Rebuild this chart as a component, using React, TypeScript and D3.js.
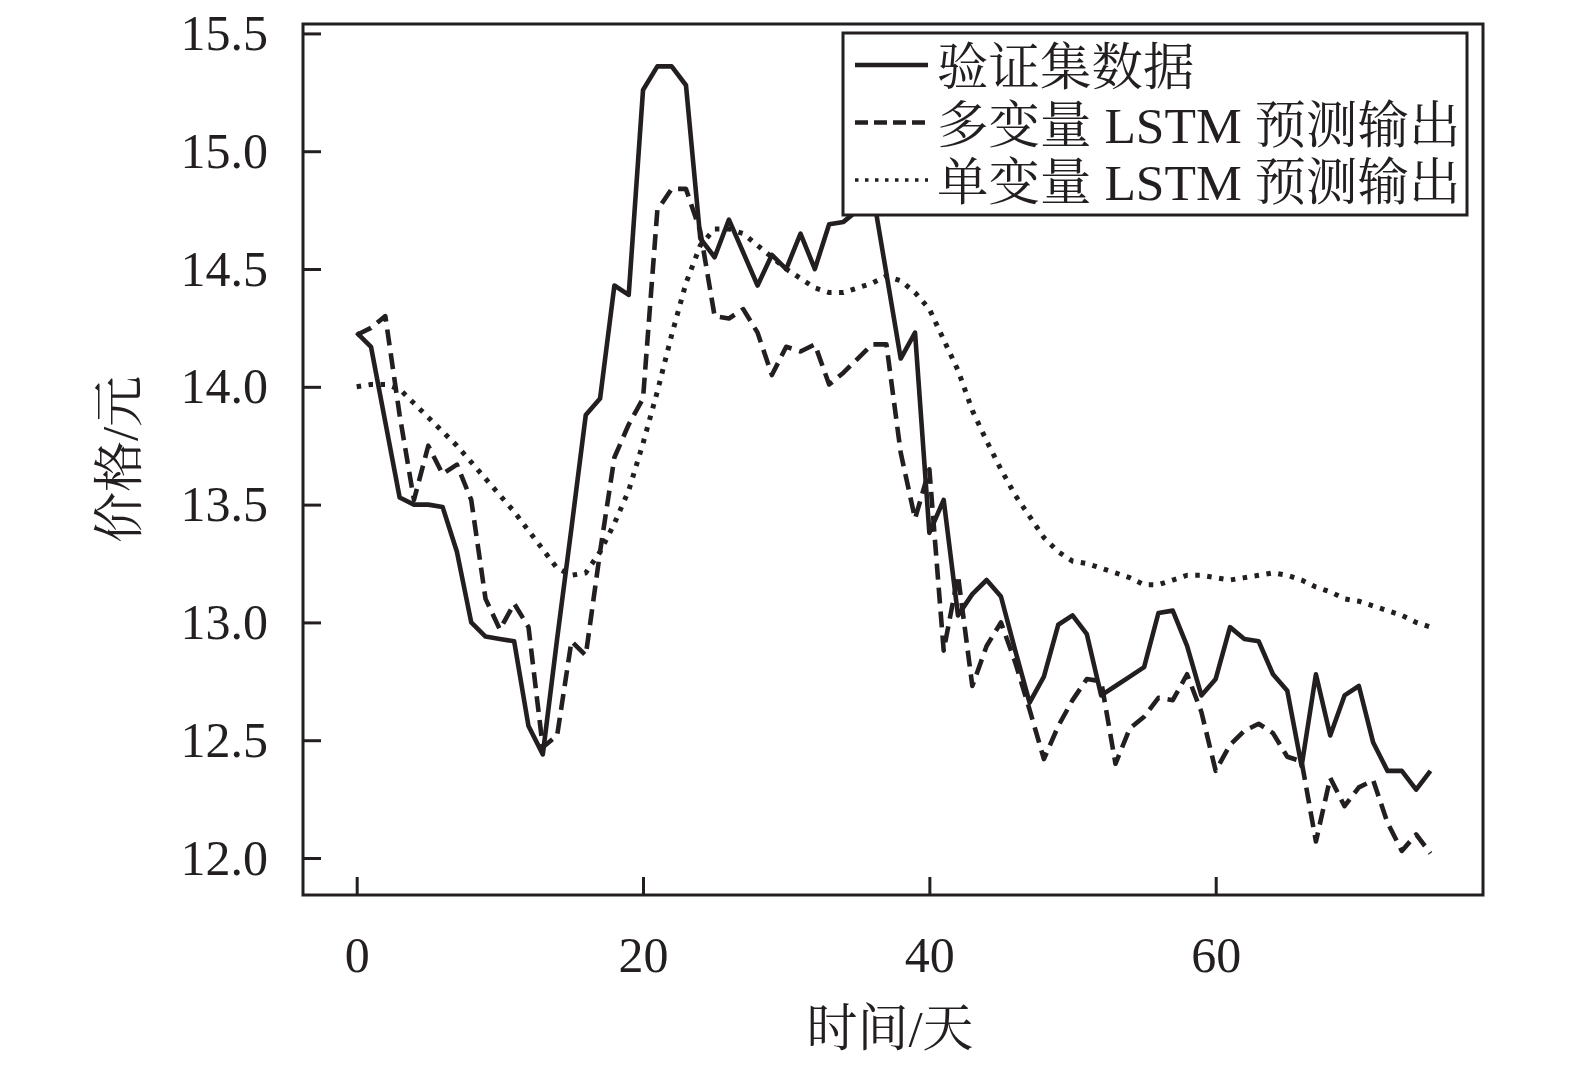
import { useEffect, useRef } from 'react';
import * as d3 from 'd3';

// days 0..75
const days = d3.range(0, 76);

const actual = [
  14.23, 14.17, 13.85, 13.53, 13.5, 13.5, 13.49, 13.3, 13.0, 12.94,
  12.93, 12.92, 12.56, 12.44, 12.93, 13.4, 13.88, 13.95, 14.43, 14.39,
  15.26, 15.36, 15.36, 15.28, 14.63, 14.55, 14.71, 14.57, 14.43, 14.56,
  14.5, 14.65, 14.5, 14.69, 14.7, 14.75, 14.84, 14.48, 14.12, 14.23,
  13.38, 13.52, 13.03, 13.12, 13.18, 13.11, 12.88, 12.66, 12.77, 12.99,
  13.03, 12.95, 12.69, 12.73, 12.77, 12.81, 13.04, 13.05, 12.9, 12.69,
  12.76, 12.98, 12.93, 12.92, 12.78, 12.71, 12.39, 12.78, 12.52, 12.69,
  12.73, 12.49, 12.37, 12.37, 12.29, 12.37,
];

const multiLstm = [
  14.22, 14.25, 14.3, 13.88, 13.52, 13.75, 13.63, 13.67, 13.52, 13.1,
  12.97, 13.08, 12.98, 12.47, 12.52, 12.92, 12.86, 13.3, 13.7, 13.84,
  13.95, 14.75, 14.84, 14.84, 14.66, 14.3, 14.29, 14.33, 14.23, 14.05,
  14.17, 14.15, 14.18, 14.01, 14.06, 14.12, 14.18, 14.18, 13.72, 13.44,
  13.65, 12.88, 13.2, 12.73, 12.9, 13.0, 12.83, 12.63, 12.42, 12.56,
  12.67, 12.76, 12.75, 12.4, 12.55, 12.6, 12.68, 12.67, 12.78, 12.62,
  12.37, 12.48, 12.54, 12.57, 12.53, 12.43, 12.41, 12.07, 12.34, 12.22,
  12.3, 12.33, 12.15, 12.03, 12.1, 12.02,
];

const uniLstm = [
  14.0, 14.01, 14.01, 13.99, 13.93, 13.87, 13.81, 13.75, 13.68, 13.61,
  13.54, 13.47, 13.39, 13.31, 13.23, 13.2, 13.21, 13.3, 13.42, 13.56,
  13.76, 13.98, 14.22, 14.44, 14.6, 14.67, 14.67, 14.65, 14.6, 14.55,
  14.5, 14.46, 14.42, 14.4, 14.4, 14.42, 14.44, 14.47, 14.45, 14.4,
  14.33, 14.2, 14.07, 13.9, 13.77, 13.65, 13.54, 13.45, 13.36, 13.3,
  13.26, 13.25, 13.23, 13.21, 13.19, 13.16, 13.16, 13.18, 13.2, 13.2,
  13.19, 13.18, 13.19, 13.2, 13.21, 13.2, 13.18, 13.15, 13.13, 13.1,
  13.09, 13.07, 13.05, 13.03, 13.0, 12.98,
];

const xTicks = [0, 20, 40, 60];
const yTicks = [12.0, 12.5, 13.0, 13.5, 14.0, 14.5, 15.0, 15.5];

const seriesNames = ['验证集数据', '多变量 LSTM 预测输出', '单变量 LSTM 预测输出'];

const INK = '#231f20';
const FONT = "'Liberation Serif', 'Noto Serif CJK SC', 'Noto Sans CJK SC', serif";

export default function App() {
  const svgRef = useRef<SVGSVGElement | null>(null);

  useEffect(() => {
    if (!svgRef.current) return;
    const width = 1575;
    const height = 1075;
    const left = 303, right = 1483, top = 24, bottom = 895;

    const svg = d3.select(svgRef.current);
    svg.selectAll('*').remove();
    svg.attr('width', width).attr('height', height);

    const x = d3.scaleLinear().domain([-3.75, 78.67]).range([left, right]);
    const y = d3.scaleLinear().domain([11.843, 15.54]).range([bottom, top]);

    const series = [
      { name: seriesNames[0], values: actual, dash: null, width: 4.6 },
      { name: seriesNames[1], values: multiLstm, dash: '16,8', width: 4.6 },
      { name: seriesNames[2], values: uniLstm, dash: '4.5,7.5', width: 5 },
    ];

    const line = d3
      .line<number>()
      .x((_, i) => x(days[i]))
      .y((d) => y(d));

    // lines, drawn back to front
    [...series].reverse().forEach((s) => {
      svg
        .append('path')
        .datum(s.values)
        .attr('d', line)
        .attr('fill', 'none')
        .attr('stroke', INK)
        .attr('stroke-width', s.width)
        .attr('stroke-linejoin', 'round')
        .attr('stroke-dasharray', s.dash);
    });

    // axes with inward ticks
    const xAxis = svg
      .append('g')
      .attr('transform', `translate(0,${bottom})`)
      .call(
        d3.axisBottom(x).tickValues(xTicks).tickSizeInner(-18).tickSizeOuter(0).tickPadding(41)
      );
    const yAxis = svg
      .append('g')
      .attr('transform', `translate(${left},0)`)
      .call(
        d3
          .axisLeft(y)
          .tickValues(yTicks)
          .tickFormat(d3.format('.1f'))
          .tickSizeInner(-18)
          .tickSizeOuter(0)
          .tickPadding(35)
      );
    [xAxis, yAxis].forEach((g) => {
      g.select('.domain').remove();
      g.selectAll('line').attr('stroke', INK).attr('stroke-width', 3);
      g.selectAll('text')
        .attr('fill', INK)
        .style('font-family', FONT)
        .style('font-size', '50px');
    });

    // frame
    svg
      .append('rect')
      .attr('x', left)
      .attr('y', top)
      .attr('width', right - left)
      .attr('height', bottom - top)
      .attr('fill', 'none')
      .attr('stroke', INK)
      .attr('stroke-width', 3);

    // axis titles
    svg
      .append('text')
      .attr('x', (left + right) / 2 - 3)
      .attr('y', 1046)
      .attr('text-anchor', 'middle')
      .attr('fill', INK)
      .style('font-family', FONT)
      .style('font-size', '51px')
      .text('时间/天');
    svg
      .append('text')
      .attr('transform', `translate(137,${(top + bottom) / 2}) rotate(-90)`)
      .attr('text-anchor', 'middle')
      .attr('fill', INK)
      .style('font-family', FONT)
      .style('font-size', '51px')
      .text('价格/元');

    // legend
    const legend = svg.append('g');
    legend
      .append('rect')
      .attr('x', 843)
      .attr('y', 33)
      .attr('width', 624)
      .attr('height', 182)
      .attr('fill', '#fff')
      .attr('stroke', INK)
      .attr('stroke-width', 3);
    const legendDash = [null, '13,6', '3.5,6.5'];
    series.forEach((s, i) => {
      const base = 85 + i * 57.5;
      legend
        .append('line')
        .attr('x1', 855)
        .attr('x2', 928)
        .attr('y1', base - 20)
        .attr('y2', base - 20)
        .attr('stroke', INK)
        .attr('stroke-width', i === 2 ? 3.5 : 4.5)
        .attr('stroke-dasharray', legendDash[i]);
      legend
        .append('text')
        .attr('x', 937)
        .attr('y', base)
        .attr('fill', INK)
        .style('font-family', FONT)
        .style('font-size', '51.5px')
        .text(s.name);
    });
  }, []);

  return (
    <div style={{ position: 'absolute', left: 0, top: 0, background: '#fff' }}>
      <svg ref={svgRef}></svg>
    </div>
  );
}
